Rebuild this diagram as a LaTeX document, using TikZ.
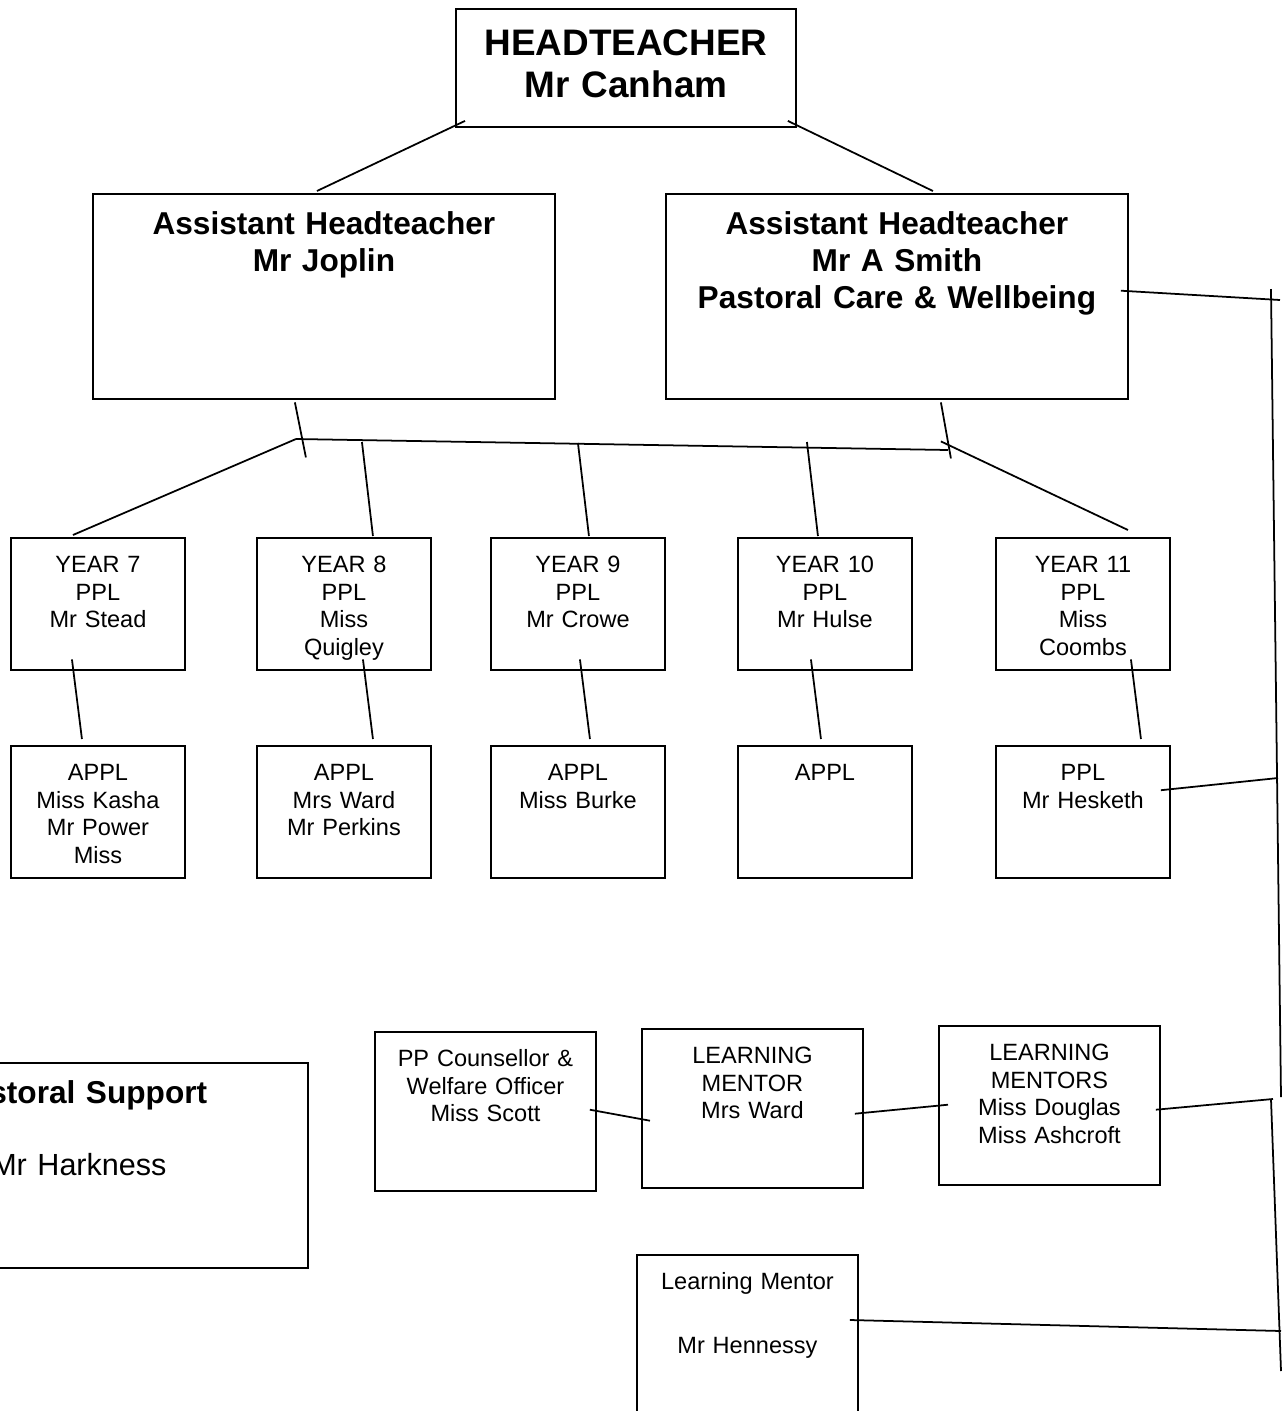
\documentclass[tikz,border=0pt]{standalone}
\usepackage{fontspec}
\setmainfont{Liberation Sans}
\usetikzlibrary{calc}

\newcommand{\orgsmall}{\fontsize{13.4}{15.7}\selectfont}
\newcommand{\orgbig}{\fontsize{18}{21}\selectfont\bfseries}
\newcommand{\orghead}{\fontsize{21}{23.8}\selectfont\bfseries}

\tikzset{
  box/.style={draw, line width=1.1pt, inner sep=0pt, align=center, anchor=north west},
  yearbox/.style={box, text width=3.48cm, text height=0.69cm, text depth=1.96cm, font=\orgsmall},
  mentorbox/.style={box, text width=4.42cm, text height=0.69cm, text depth=2.5cm, font=\orgsmall},
  ahbox/.style={box, text width=9.24cm, text height=0.81cm, text depth=3.3cm, font=\orgbig},
  link/.style={line width=1pt},
}

\begin{document}
\begin{tikzpicture}[x=0.02cm,y=-0.02cm]

\useasboundingbox (0,0) rectangle (1283,1411);
\clip (0,0) rectangle (1283,1411);

% head and assistant heads
\node[box, text width=6.8cm, text height=0.94cm, text depth=1.42cm, font=\orghead] (head) at (455,8) {HEADTEACHER\\Mr Canham};
\node[ahbox] (joplin) at (92,193) {Assistant Headteacher\\Mr Joplin};
\node[ahbox] (smith) at (665,193) {Assistant Headteacher\\Mr A Smith\\Pastoral Care \& Wellbeing};

% year teams
\node[yearbox] (y7) at (10,537) {YEAR 7\\PPL\\Mr Stead};
\node[yearbox] (y8) at (256,537) {YEAR 8\\PPL\\Miss\\Quigley};
\node[yearbox] (y9) at (490,537) {YEAR 9\\PPL\\Mr Crowe};
\node[yearbox] (y10) at (737,537) {YEAR 10\\PPL\\Mr Hulse};
\node[yearbox] (y11) at (995,537) {YEAR 11\\PPL\\Miss\\Coombs};

\node[yearbox] (appl7) at (10,745) {APPL\\Miss Kasha\\Mr Power\\Miss};
\node[yearbox] (appl8) at (256,745) {APPL\\Mrs Ward\\Mr Perkins};
\node[yearbox] (appl9) at (490,745) {APPL\\Miss Burke};
\node[yearbox] (appl10) at (737,745) {APPL};
\node[yearbox] (appl11) at (995,745) {PPL\\Mr Hesketh};

% support staff
\node[box, text width=9.16cm, text height=0.82cm, text depth=3.28cm, font=\orgbig] (pastoral) at (-151,1062) {Pastoral Support\\[19.8pt]{\mdseries\fontsize{17.4}{21}\selectfont Mr Harkness}};
\node[mentorbox] (scott) at (374,1031) {PP Counsellor \&\\Welfare Officer\\Miss Scott};
\node[mentorbox] (ward) at (641,1028) {LEARNING\\MENTOR\\Mrs Ward};
\node[mentorbox] (douglas) at (938,1025) {LEARNING\\MENTORS\\Miss Douglas\\Miss Ashcroft};
\node[mentorbox, text depth=4cm] (hennessy) at (636,1254) {Learning Mentor\\[20.6pt]Mr Hennessy};

% lines from the headteacher
\draw[link] ($(head.south west)+(10,-7)$) -- ($(joplin.north)+(-7,-2)$);
\draw[link] ($(head.south east)+(-9,-7)$) -- ($(smith.north)+(36,-2)$);

% the bar under the assistant heads
\coordinate (barl) at (296,439);
\coordinate (barr) at (948,450);
\draw[link] (barl) -- (barr);
\draw[link] ($(joplin.south)+(-29,2)$) -- ($(joplin.south)+(-18,57)$);
\draw[link] ($(smith.south)+(44,2)$) -- ($(smith.south)+(54,58)$);

\draw[link] (barl) -- ($(y7.north)+(-25,-2)$);
\draw[link] ($(y8.north)+(18,-95)$) -- ($(y8.north)+(29,-1)$);
\draw[link] ($(y9.north)+(0,-94)$) -- ($(y9.north)+(11,-1)$);
\draw[link] ($(y10.north)+(-18,-95)$) -- ($(y10.north)+(-7,-1)$);
\draw[link] ($(smith.south)+(44,41)$) -- ($(y11.north)+(45,-7)$);

% each year to its APPL box
\foreach \n/\dx in {7/-26, 8/19, 9/2, 10/-14, 11/48}{
    \draw[link] ($(y\n.south)+(\dx,-12)$) -- ($(appl\n.north)+(\dx+10,-6)$);
}

% mentors side by side
\draw[link] ($(scott.east)+(-7,-2)$) -- ($(ward.west)+(9,12)$);
\draw[link] ($(ward.east)+(-9,5)$) -- ($(douglas.west)+(10,-1)$);

% the rail on the right
\coordinate (railtop) at (1271,289);
\coordinate (railmid) at (1281,1097);
\coordinate (railmid2) at (1271,1099);
\coordinate (railbot) at (1281,1371);
\draw[link] (railtop) -- (railmid);
\draw[link] (railmid2) -- (railbot);

\coordinate (railA) at (1280,300);
\coordinate (railB) at (1278,778);
\coordinate (railC) at (1273,1099);
\coordinate (railD) at (1281,1331);
\draw[link] ($(smith.east)+(-8,-6)$) -- (railA);
\draw[link] ($(appl11.east)+(-10,-22)$) -- (railB);
\draw[link] ($(douglas.east)+(-5,4)$) -- (railC);
\draw[link] ($(hennessy.north east)+(-9,66)$) -- (railD);

\end{tikzpicture}
\end{document}
